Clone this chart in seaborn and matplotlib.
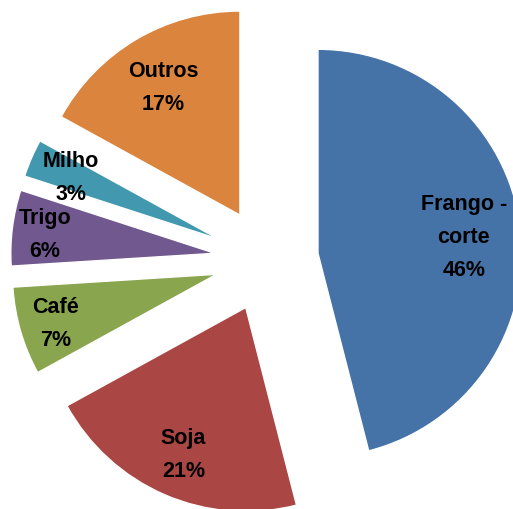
import numpy as np
import matplotlib
matplotlib.use("Agg")
import matplotlib.pyplot as plt
import seaborn as sns

categories = ["Frango -\ncorte", "Soja", "Café", "Trigo", "Milho", "Outros"]
shares = [46, 21, 7, 6, 3, 17]
colors = ["#4572A7", "#AA4643", "#89A54E", "#71588F", "#4198AF", "#DB843D"]
label_dist = [0.72, 0.77, 0.82, 0.84, 0.79, 0.74]

sns.set_style("white")
plt.rcParams['font.family'] = ['Liberation Sans', 'DejaVu Sans']

fig = plt.figure(figsize=(5.13, 5.09), dpi=100)
ax = fig.add_axes([0, 0, 1, 1])

r = 204
wedges, _ = ax.pie(
    shares,
    colors=colors,
    startangle=90,
    counterclock=False,
    radius=r,
    center=(266.4, 249.2),
    explode=[52] * len(shares),
)

for w, name, pct, d in zip(wedges, categories, shares, label_dist):
    ang = np.deg2rad((w.theta1 + w.theta2) / 2)
    cx, cy = w.center
    ax.text(cx + d * r * np.cos(ang), cy + d * r * np.sin(ang) - 3,
            f"{name}\n{pct}%", ha="center", va="center",
            fontsize=15.5, fontweight="bold", color="black", linespacing=1.75)

ax.set_xlim(0, 513)
ax.set_ylim(0, 509)
ax.set_aspect("equal")
ax.axis("off")

fig.savefig("out.png", dpi=100)
